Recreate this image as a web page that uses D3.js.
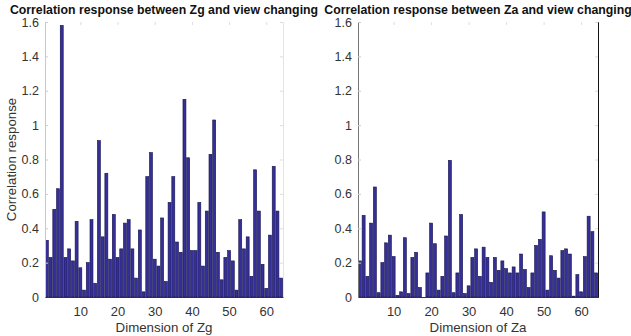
<!DOCTYPE html>
<html>
<head>
<meta charset="utf-8">
<script src="https://cdn.jsdelivr.net/npm/d3@7"></script>
<style>
  body { margin: 0; background: #fff; }
  svg { font-family: "Liberation Sans", Arial, sans-serif; }
</style>
</head>
<body>
<div id="chart"></div>
<script>
// values
const dims = d3.range(1, 65);
const yTicks = [0, 0.2, 0.4, 0.6, 0.8, 1, 1.2, 1.4, 1.6];
const xTicks = [10, 20, 30, 40, 50, 60];

const zgResponse = [
  0.33, 0.23, 0.51, 0.63, 1.58, 0.23, 0.28, 0.21, 0.44, 0.17,
  0.04, 0.20, 0.45, 0.08, 0.91, 0.35, 0.72, 0.22, 0.48, 0.23,
  0.28, 0.43, 0.45, 0.28, 0.11, 0.39, 0.03, 0.70, 0.84, 0.22,
  0.18, 0.46, 0.09, 0.55, 0.70, 0.32, 0.26, 1.15, 0.81, 0.27,
  0.27, 0.55, 0.18, 0.50, 0.83, 1.03, 0.26, 0.10, 0.23, 0.27,
  0.21, 0.04, 0.45, 0.28, 0.35, 0.12, 0.74, 0.50, 0.19, 0.05,
  0.36, 0.76, 0.50, 0.11
];

const zaResponse = [
  0.21, 0.475, 0.12, 0.43, 0.64, 0.025, 0.20, 0.315, 0.36, 0.235,
  0.01, 0.03, 0.345, 0.02, 0.23, 0.26, 0.055, 0.0, 0.14, 0.43,
  0.31, 0.04, 0.12, 0.355, 0.795, 0.025, 0.14, 0.48, 0.02, 0.065,
  0.23, 0.28, 0.12, 0.29, 0.23, 0.085, 0.23, 0.155, 0.21, 0.165,
  0.14, 0.175, 0.14, 0.25, 0.16, 0.055, 0.14, 0.30, 0.335, 0.495,
  0.04, 0.24, 0.155, 0.11, 0.27, 0.28, 0.25, 0.005, 0.13, 0.03,
  0.235, 0.47, 0.38, 0.14
];

const width = 631, height = 336;

const svg = d3.select("#chart")
  .append("svg")
  .attr("width", width)
  .attr("height", height);

// two panels side by side
const panels = [
  { values: zgResponse, left: 45, right: 283, title: "Correlation response between Zg and view changing",
    xLabel: "Dimension of Zg", yLabel: "Correlation response", leftLine: "#c8c8c8", rightLine: "#e4e4e4" },
  { values: zaResponse, left: 358, right: 598, title: "Correlation response between Za and view changing",
    xLabel: "Dimension of Za", yLabel: null, leftLine: "#777", rightLine: "#111" }
];

const plotTop = 22, plotBottom = 297;

panels.forEach(function (p) {
  const g = svg.append("g");

  const x = d3.scaleLinear()
    .domain([0.5, 64.5])
    .range([p.left, p.right]);

  const y = d3.scaleLinear()
    .domain([0, 1.6])
    .range([plotBottom, plotTop]);

  const bw = (x(1) - x(0)) * 0.8;

  // bars
  g.append("g")
    .selectAll("rect")
    .data(p.values)
    .join("rect")
    .attr("x", (d, i) => x(dims[i]) - bw / 2)
    .attr("y", d => y(d))
    .attr("width", bw)
    .attr("height", d => y(0) - y(d))
    .attr("fill", "#352f98")
    .attr("stroke", "#15124a")
    .attr("stroke-width", 0.6);

  // y axis
  const yAxis = g.append("g")
    .attr("transform", `translate(${p.left},0)`)
    .call(d3.axisLeft(y).tickValues(yTicks).tickSize(-3).tickPadding(6)
      .tickFormat(d => d === 0 ? "0" : d3.format("")(Math.round(d * 10) / 10)));
  yAxis.select(".domain").attr("stroke", p.leftLine);
  yAxis.selectAll(".tick line").attr("stroke", "#ccc");
  yAxis.selectAll("text").attr("fill", "#333").style("font-size", "12.5px");

  // right side line and ticks
  const yRight = g.append("g")
    .attr("transform", `translate(${p.right},0)`)
    .call(d3.axisRight(y).tickValues(yTicks).tickSize(-3).tickFormat(""));
  yRight.select(".domain").attr("stroke", p.rightLine);
  yRight.selectAll(".tick line").attr("stroke", "#ddd");

  // x axis
  const xAxis = g.append("g")
    .attr("transform", `translate(0,${plotBottom})`)
    .call(d3.axisBottom(x).tickValues(xTicks).tickSize(0).tickPadding(10));
  xAxis.select(".domain").attr("stroke", "#333");
  xAxis.selectAll("text").attr("fill", "#333").style("font-size", "13px");

  // top ticks
  const xTop = g.append("g")
    .attr("transform", `translate(0,${plotTop})`)
    .call(d3.axisTop(x).tickValues(xTicks).tickSize(-3).tickFormat(""));
  xTop.select(".domain").remove();
  xTop.selectAll(".tick line").attr("stroke", "#ddd");

  // title
  g.append("text")
    .attr("x", (p.left + p.right) / 2)
    .attr("y", 14)
    .attr("text-anchor", "middle")
    .style("font-size", "12.3px")
    .style("font-weight", "bold")
    .attr("fill", "#111")
    .text(p.title);

  // x label
  g.append("text")
    .attr("x", (p.left + p.right) / 2)
    .attr("y", 332)
    .attr("text-anchor", "middle")
    .style("font-size", "13.3px")
    .attr("fill", "#333")
    .text(p.xLabel);

  // y label
  if (p.yLabel) {
    g.append("text")
      .attr("transform", `translate(16,${(plotTop + plotBottom) / 2}) rotate(-90)`)
      .attr("text-anchor", "middle")
      .style("font-size", "13.3px")
      .attr("fill", "#333")
      .text(p.yLabel);
  }
});
</script>
</body>
</html>
